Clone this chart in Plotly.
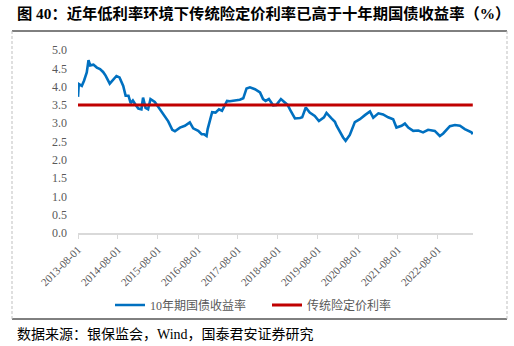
import plotly.graph_objects as go

# ---- data ----
dates = [
    "2013-08-01", "2013-08-08", "2013-09-05", "2013-09-25", "2013-10-20", "2013-11-05", "2013-11-20",
    "2013-12-20", "2014-01-20", "2014-02-18", "2014-03-18", "2014-04-10", "2014-05-18",
    "2014-06-18", "2014-07-18", "2014-08-15", "2014-09-18", "2014-10-10", "2014-11-05",
    "2014-11-25", "2014-12-15", "2015-01-10", "2015-02-03", "2015-03-03", "2015-03-18", "2015-04-10",
    "2015-05-03", "2015-05-25", "2015-07-03", "2015-08-03", "2015-09-18", "2015-11-03", "2015-12-10",
    "2016-01-03", "2016-02-18", "2016-04-03", "2016-05-18", "2016-06-18", "2016-08-03",
    "2016-09-03", "2016-09-25", "2016-10-18", "2016-10-28", "2016-12-08", "2017-01-08",
    "2017-02-08", "2017-03-08", "2017-04-23", "2017-05-18", "2017-07-03", "2017-08-18",
    "2017-09-18", "2017-10-18", "2017-11-18", "2018-01-03", "2018-02-18", "2018-03-18",
    "2018-04-10", "2018-05-10", "2018-06-18", "2018-07-18", "2018-08-28", "2018-09-28",
    "2018-10-28", "2018-11-28", "2019-01-03", "2019-02-18", "2019-03-10", "2019-04-12",
    "2019-05-18", "2019-07-03", "2019-08-10", "2019-09-25", "2019-10-18", "2019-12-03",
    "2020-01-03", "2020-01-18", "2020-02-03", "2020-02-18", "2020-03-18", "2020-04-10",
    "2020-05-03", "2020-05-18", "2020-07-03", "2020-08-18", "2020-10-03", "2020-11-18",
    "2020-12-18", "2021-02-03", "2021-03-18", "2021-05-03", "2021-06-18", "2021-07-18",
    "2021-09-03", "2021-10-03", "2021-11-03", "2021-12-18", "2022-02-03", "2022-03-18",
    "2022-05-03", "2022-07-03", "2022-08-18", "2022-09-18", "2022-11-18", "2023-01-03",
    "2023-02-18", "2023-04-03", "2023-06-03", "2023-06-15",
]
yield_10y = [
    3.72, 4.07, 4.02, 4.16, 4.39, 4.72, 4.58,
    4.60, 4.52, 4.48, 4.40, 4.30, 4.08,
    4.20, 4.29, 4.25, 4.02, 3.75, 3.75,
    3.55, 3.62, 3.50, 3.40, 3.38, 3.70, 3.42,
    3.38, 3.66, 3.58, 3.45, 3.25, 3.05, 2.82,
    2.78, 2.88, 2.93, 3.02, 2.86, 2.79,
    2.70, 2.70, 2.65, 2.84, 3.30, 3.29,
    3.38, 3.34, 3.61, 3.60, 3.62, 3.64,
    3.68, 3.95, 3.98, 3.93, 3.84, 3.66,
    3.61, 3.66, 3.49, 3.50, 3.66, 3.57,
    3.50, 3.32, 3.13, 3.14, 3.16, 3.43,
    3.29, 3.20, 3.06, 3.16, 3.28, 3.13,
    3.04, 2.93, 2.84, 2.75, 2.61, 2.52,
    2.60, 2.68, 3.03, 3.11, 3.22, 3.32,
    3.15, 3.27, 3.24, 3.16, 3.11, 2.88,
    2.93, 2.99, 2.88, 2.79, 2.80, 2.75,
    2.82, 2.79, 2.65, 2.72, 2.92, 2.95,
    2.93, 2.84, 2.75, 2.70,
]
pricing_rate = [3.5] * len(dates)

tick_dates = ["2013-08-01", "2014-08-01", "2015-08-01", "2016-08-01", "2017-08-01",
              "2018-08-01", "2019-08-01", "2020-08-01", "2021-08-01", "2022-08-01"]
y_ticks = [0.0, 0.5, 1.0, 1.5, 2.0, 2.5, 3.0, 3.5, 4.0, 4.5, 5.0]

series_names = ["10年期国债收益率", "传统险定价利率"]
title_text = "图 40：近年低利率环境下传统险定价利率已高于十年期国债收益率（%）"
source_text = "数据来源：银保监会，Wind，国泰君安证券研究"

# ---- figure ----
W, H = 514, 346
ML, MR, MT, MB = 78, 41, 50, 113
PW = W - ML - MR
PH = H - MT - MB


def px_x(px):
    return (px - ML) / PW


def px_y(py):
    return (H - MB - py) / PH


SERIF = "Liberation Serif, Noto Sans CJK SC, serif"
GRAY = "#595959"

fig = go.Figure()
fig.add_trace(go.Scatter(x=dates, y=yield_10y, mode="lines", name=series_names[0],
                         line=dict(color="#0070C0", width=2.6)))
fig.add_trace(go.Scatter(x=dates, y=pricing_rate, mode="lines", name=series_names[1],
                         line=dict(color="#C00000", width=3)))

fig.update_layout(
    width=W, height=H,
    margin=dict(l=ML, r=MR, t=MT, b=MB, pad=0),
    paper_bgcolor="white", plot_bgcolor="white",
    font=dict(family=SERIF, color=GRAY, size=12),
    showlegend=True,
    legend=dict(orientation="h", x=px_x(110), xanchor="left", y=px_y(305), yanchor="middle",
                font=dict(family=SERIF, size=12, color=GRAY), bgcolor="rgba(0,0,0,0)",
                itemwidth=30, tracegroupgap=0, entrywidth=112, entrywidthmode="pixels"),
    title=dict(text=title_text, x=17 / W, xanchor="left", xref="container",
               y=1 - 14 / H, yanchor="middle", yref="container",
               font=dict(family="Liberation Serif, Noto Sans CJK SC", size=15.3, color="black",
                         weight="bold")),
)

fig.update_xaxes(
    type="date", range=["2013-08-01", "2023-06-17"],
    tickvals=tick_dates, ticktext=tick_dates, tickangle=-45,
    tickfont=dict(family=SERIF, size=11, color=GRAY),
    showgrid=False, zeroline=False,
    showline=True, linecolor="#d9d9d9", linewidth=2,
    ticks="outside", ticklen=4, tickcolor="#d9d9d9", tickwidth=1,
)
fig.update_yaxes(
    range=[0, 5], tickvals=y_ticks, tickformat=".1f",
    tickfont=dict(family=SERIF, size=12, color=GRAY),
    showgrid=False, zeroline=False, showline=False, ticks="",
    ticklabelstandoff=10,
)

# frame lines
fig.add_shape(type="line", xref="paper", yref="paper", x0=px_x(12), x1=px_x(507),
              y0=px_y(31), y1=px_y(31), line=dict(color="black", width=1))
fig.add_shape(type="line", xref="paper", yref="paper", x0=px_x(12), x1=px_x(507),
              y0=px_y(319), y1=px_y(319), line=dict(color="black", width=1))
for xx in (12, 507):
    fig.add_shape(type="line", xref="paper", yref="paper", x0=px_x(xx), x1=px_x(xx),
                  y0=px_y(31), y1=px_y(319), line=dict(color="#bfbfbf", width=1, dash="3px,2px"))

fig.add_annotation(text=source_text, xref="paper", yref="paper", x=px_x(15), y=px_y(334),
                   xanchor="left", yanchor="middle", showarrow=False,
                   font=dict(family="Liberation Serif, Noto Sans CJK SC", size=14, color="black"))

fig.write_html("out.html")
